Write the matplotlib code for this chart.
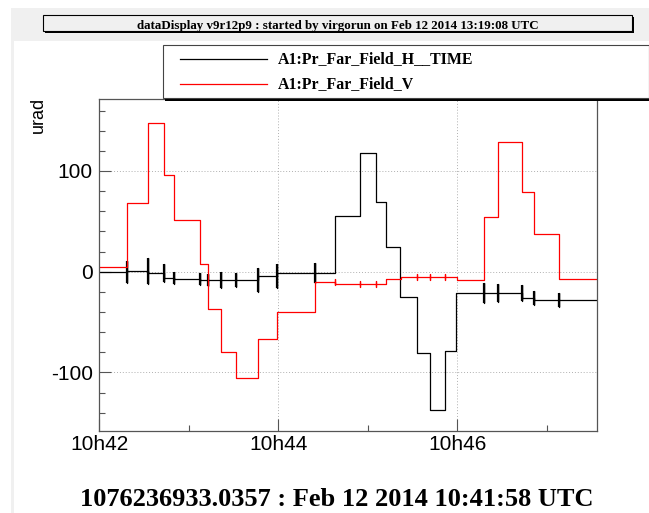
import matplotlib
matplotlib.use('Agg')
import matplotlib.pyplot as plt
from matplotlib.patches import Rectangle
from matplotlib.lines import Line2D
from matplotlib.ticker import FixedLocator, MultipleLocator

plt.rcParams['axes.unicode_minus'] = False

# time axis in seconds after 10:42:00 UTC
t_end = 333.4

# A1:Pr_Far_Field_V  (step starts [s], levels [urad])
v_starts = [0, 18.6, 32.6, 43.1, 50.3, 67.2, 72.9, 81.6, 91.8, 106.4, 119.1,
            144.3, 158.2, 192.4, 202.3, 239.8, 258.1, 267.3, 283.4, 291.6, 307.9]
v_levels = [5, 68, 148, 96, 51, 7.6, -37, -80, -106, -67, -40,
            -10.5, -12.5, -7, -5, -8, 54, 129, 79, 37, -7]
v_glitch_t = [158.2, 175.0, 185.7, 213.0, 221.4, 232.0]
v_glitch_a = [3, 3, 3, 3, 3, 3]

# A1:Pr_Far_Field_H__TIME
h_starts = [0, 18.6, 32.6, 43.1, 50.3, 67.2, 106.4, 119.1, 144.3, 158.2, 175.0,
            185.7, 192.4, 201.8, 213.0, 221.4, 232.0, 239.3, 267.3, 283.4, 291.6]
h_levels = [0, 0.7, -1, -6, -7.5, -8.3, -4.3, -1.6, -1, 55.4, 118,
            69, 25, -25.5, -81, -137, -78.6, -21.5, -21, -26.5, -28]
h_glitch_t = [18.6, 32.6, 43.1, 50.3, 67.2, 72.9, 81.6, 91.8, 106.4, 119.1,
              144.3, 258.1, 267.3, 283.4, 291.6, 307.9]
h_glitch_a = [11, 13, 9, 6, 6, 6, 8, 7, 12, 12, 10, 10, 9, 8, 7, 7]

x_ticks = [0, 120, 240]
x_labels = ['10h42', '10h44', '10h46']

title = 'dataDisplay v9r12p9 : started by virgorun on Feb 12 2014 13:19:08 UTC'
footer = '1076236933.0357 : Feb 12 2014 10:41:58 UTC'
names = ['A1:Pr_Far_Field_H__TIME', 'A1:Pr_Far_Field_V']


def trace(starts, levels, glitch_t, glitch_a, stop):
    # step trace with short glitches; also returns the glitch bars
    xs, ys, bars = [], [], []
    bounds = list(starts[1:]) + [stop]
    for t0, t1, v in zip(starts, bounds, levels):
        xs.append(t0)
        ys.append(v)
        for ts, a in zip(glitch_t, glitch_a):
            if t0 < ts <= t1:
                xs += [ts, ts, ts, ts]
                ys += [v, v + a, v - a, v]
                bars.append((ts, v - a, v + a))
        xs.append(t1)
        ys.append(v)
    return xs, ys, bars


W, H = 649, 513
fig = plt.figure(figsize=(W / 100, H / 100), dpi=100, facecolor='white')


def fx(x):
    return x / W


def fy(y):
    return 1 - y / H


def box(x0, y0, x1, y1, **kw):
    r = Rectangle((fx(x0), fy(y1)), fx(x1) - fx(x0), fy(y0) - fy(y1),
                  transform=fig.transFigure, **kw)
    fig.add_artist(r)


grey = '#f0f0f0'
box(11, 8, 649, 41, facecolor=grey, edgecolor='none', zorder=0)
box(11, 41, 14, 513, facecolor=grey, edgecolor='none', zorder=0)

# title pave with shadow
box(45, 17, 634, 33, facecolor='black', edgecolor='none', zorder=1)
box(43, 15, 632, 31, facecolor=grey, edgecolor='black', lw=0.8, zorder=2)
fig.text(fx(337.5), fy(28.5), title, ha='center', va='baseline',
         family='Liberation Serif', weight='bold', fontsize=9.4, zorder=3)

ax = fig.add_axes([fx(98.5), fy(431), fx(596.7) - fx(98.5), fy(99) - fy(431)])
ax.set_zorder(1)
ax.patch.set_alpha(0)

hx, hy, hbars = trace(h_starts, h_levels, h_glitch_t, h_glitch_a, t_end)
vx, vy, vbars = trace(v_starts, v_levels, v_glitch_t, v_glitch_a, t_end)
ax.plot(hx, hy, color='black', lw=0.9)
ax.vlines([b[0] for b in hbars], [b[1] for b in hbars], [b[2] for b in hbars],
          color='black', lw=1.6)
ax.plot(vx, vy, color='red', lw=0.9)

ax.set_xlim(-0.5, t_end)
ax.set_ylim(-158.2, 171.5)
ax.xaxis.set_major_locator(FixedLocator(x_ticks))
ax.set_xticklabels(x_labels)
ax.xaxis.set_minor_locator(FixedLocator([60, 180, 300]))
ax.yaxis.set_major_locator(MultipleLocator(100))
ax.yaxis.set_minor_locator(MultipleLocator(20))
for lab in ax.get_xticklabels() + ax.get_yticklabels():
    lab.set_family('Liberation Sans')
    lab.set_fontsize(15)
ax.tick_params(which='major', direction='in', length=8.5, width=0.8, color='#555555',
               top=False, right=False, pad=4)
ax.tick_params(which='minor', direction='in', length=4, width=0.8, color='#555555',
               top=False, right=False)
ax.tick_params(axis='x', which='major', pad=3)
ax.grid(True, which='major', linestyle=(0, (1, 2)), color='#b0b0b0', lw=0.7)
for s in ax.spines.values():
    s.set_color('#555555')
    s.set_linewidth(0.9)
ax.set_ylabel('urad', family='Liberation Sans', fontsize=13)
ax.yaxis.set_label_coords(fx(31) - fx(98.5), (fy(115) - fy(431)) / (fy(99) - fy(431)))

# legend pave with shadow
box(165, 45, 652, 101, facecolor='black', edgecolor='none', zorder=4)
box(163, 45, 649, 98, facecolor='white', edgecolor='#444444', lw=0.8, zorder=5)
for (yy, c, name) in [(59, 'black', names[0]), (84, 'red', names[1])]:
    fig.add_artist(Line2D([fx(180), fx(266.7)], [fy(yy), fy(yy)], color=c, lw=0.9,
                          transform=fig.transFigure, zorder=6))
    fig.text(fx(278), fy(yy + 4.5), name, ha='left', va='baseline',
             family='Liberation Serif', weight='bold', fontsize=11.4, zorder=6)

fig.text(fx(336.5), fy(506), footer, ha='center', va='baseline',
         family='Liberation Serif', weight='bold', fontsize=19)

fig.savefig('out.png', dpi=100, facecolor='white')
